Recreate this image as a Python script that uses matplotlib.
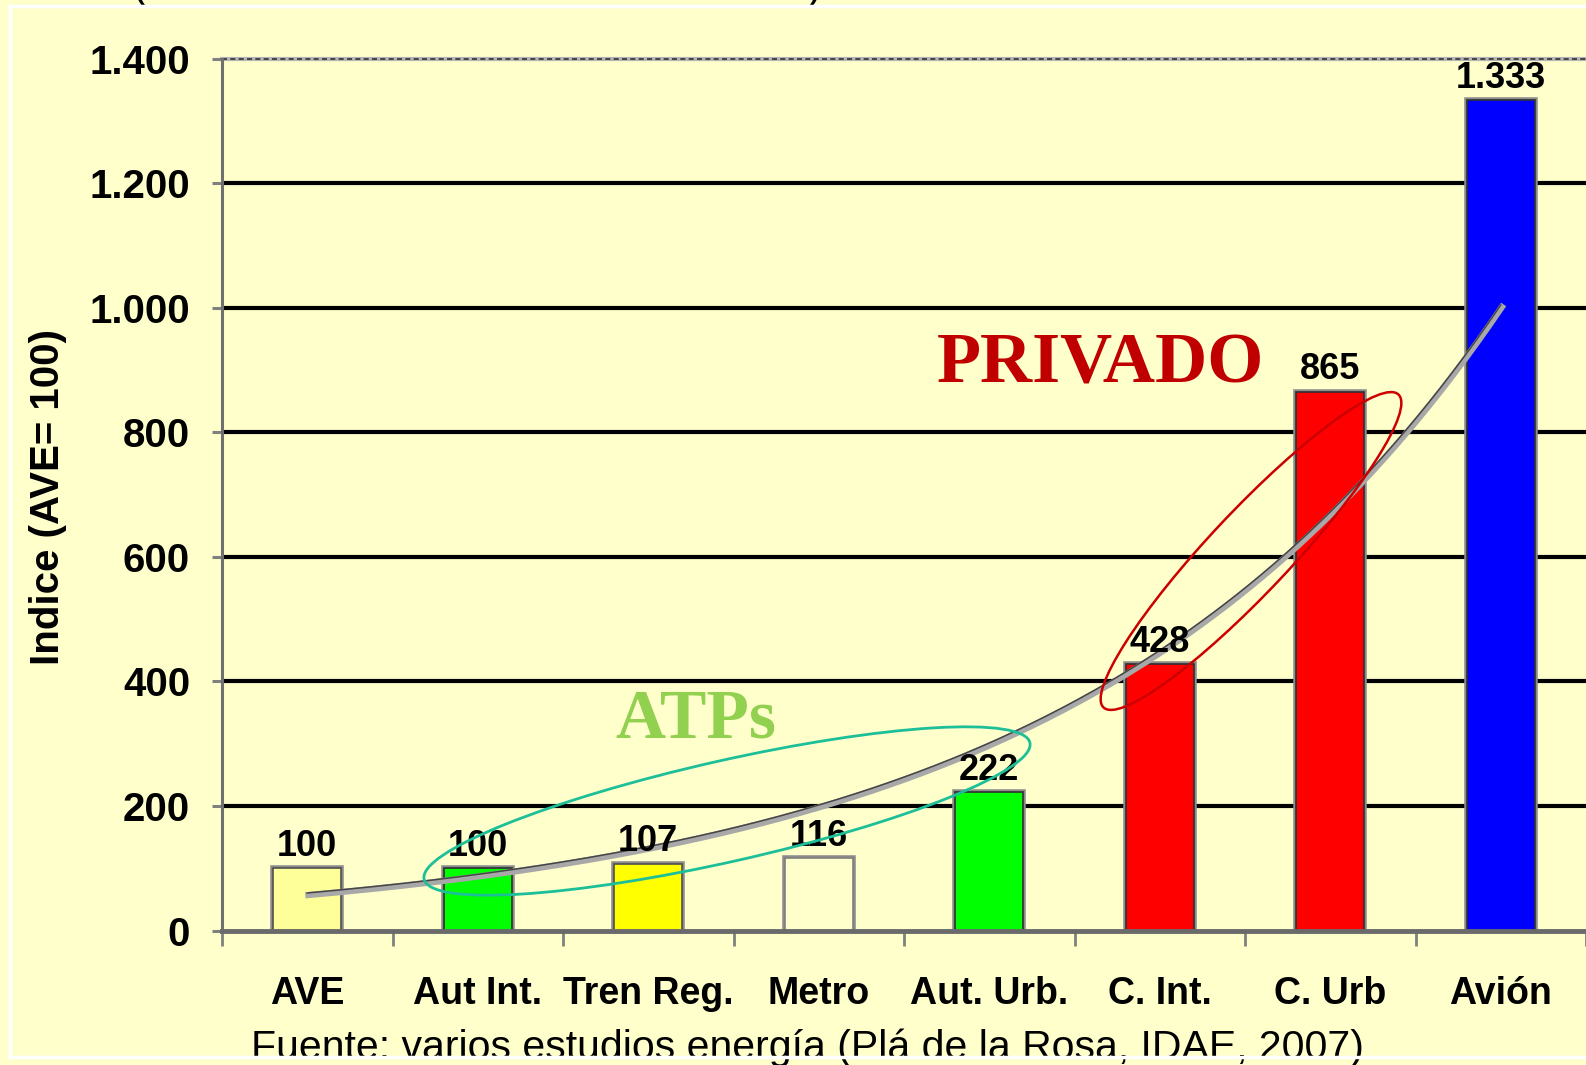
import numpy as np
import matplotlib
matplotlib.use('Agg')
import matplotlib.pyplot as plt
import matplotlib.patheffects as pe
from matplotlib.patches import Ellipse
from matplotlib.lines import Line2D
from matplotlib.transforms import Affine2D

W, H = 1586, 1065
BG = '#FFFFCC'

categories = ['AVE', 'Aut Int.', 'Tren Reg.', 'Metro', 'Aut. Urb.', 'C. Int.', 'C. Urb', 'Avión']
values = [100, 100, 107, 116, 222, 428, 865, 1333]
bar_colors = ['#FFFF99', '#00FF00', '#FFFF00', BG, '#00FF00', '#FF0000', '#FF0000', '#0000FF']
bar_edges = ['#505050', '#303030', '#505050', '#808080', '#303030', '#303030', '#303030', '#303030']
yticks = [0, 200, 400, 600, 800, 1000, 1200, 1400]

plt.rcParams['font.family'] = ['Liberation Sans', 'DejaVu Sans']
plt.rcParams['font.weight'] = 'bold'


def fmt(v):
    return f'{v:,}'.replace(',', '.')


# image pixel coords (origin top-left) -> display
px = Affine2D().scale(1, -1).translate(0, H)

fig = plt.figure(figsize=(W / 100, H / 100), dpi=100, facecolor=BG)
x0, y0, y1 = 222, 930.6, 58.7
cat_w = 171
ax = fig.add_axes([x0 / W, 1 - y0 / H, (W - x0) / W, (y0 - y1) / H])
ax.set_facecolor(BG)
x = np.arange(len(categories))
ax.set_xlim(-0.5, (W - x0) / cat_w - 0.5)
ax.set_ylim(0, 1400)

# horizontal grid
for v in yticks[1:-1]:
    ax.axhline(v, color='black', lw=3, zorder=1)
ax.axhline(1400, color='#b4b4b4', lw=3, zorder=1, clip_on=False)
ax.axhline(1400, color='#333333', lw=1.2, ls=(0, (3, 2)), zorder=1, clip_on=False)

bars = ax.bar(x, values, width=0.4, color=bar_colors, edgecolor=bar_edges, lw=1.2, zorder=2)
for b in bars:
    b.set_path_effects([pe.Stroke(linewidth=4, foreground='#8c8c8c'), pe.Normal()])

# exponential trend line (least squares on log values)
coef = np.polyfit(x, np.log(values), 1)
tx = np.linspace(0, len(x) - 1, 300)
ty = np.exp(coef[1] + coef[0] * tx)
ax.plot(tx, ty, color='#454545', lw=1.1, zorder=3,
        path_effects=[pe.Stroke(linewidth=4.5, foreground='#a8a8a8', offset=(0.8, -1.5)), pe.Normal()])

for xi, v in zip(x, values):
    ax.annotate(fmt(v), (xi, v), xytext=(0, 9), textcoords='offset points',
                ha='center', va='baseline', fontsize=26, fontweight='bold', zorder=5)

for s in ['top', 'right']:
    ax.spines[s].set_visible(False)
ax.spines['left'].set_color('#707070')
ax.spines['left'].set_linewidth(2.2)
ax.spines['bottom'].set_color('#6a6a6a')
ax.spines['bottom'].set_linewidth(3.5)
ax.spines['bottom'].set_zorder(4)

ax.set_yticks(yticks)
ax.set_yticklabels([fmt(v) for v in yticks])
ax.tick_params(axis='y', length=7, width=2.2, color='#808080', pad=16, labelsize=29)

ax.set_xticks(x)
ax.set_xticklabels(categories)
ax.set_xticks(np.arange(len(x) + 1) - 0.5, minor=True)
ax.tick_params(axis='x', which='major', length=0, pad=33, labelsize=27)
ax.tick_params(axis='x', which='minor', length=11, width=2, color='#808080')

fig.text(48 / W, 1 - 497 / H, 'Indice (AVE= 100)', rotation=90, ha='center', va='center',
         fontsize=29, fontweight='bold')

fig.text(1101 / W, 1 - 383 / H, 'PRIVADO', ha='center', va='baseline', fontsize=52,
         fontweight='bold', family=['Liberation Serif', 'DejaVu Serif'], color='#C00000')
fig.text(696 / W, 1 - 738 / H, 'ATPs', ha='center', va='baseline', fontsize=50,
         fontweight='bold', family=['Liberation Serif', 'DejaVu Serif'], color='#92D050')

fig.add_artist(Ellipse((727, 811), 621, 101, angle=-12.7, transform=px, fill=False,
                       ec='#1DBF98', lw=2, zorder=6))
fig.add_artist(Ellipse((1251, 551), 430, 81, angle=-46.7, transform=px, fill=False,
                       ec='#CC0000', lw=1.8, zorder=6))

fig.text(251 / W, 1 - 1059 / H, 'Fuente: varios estudios energía (Plá de la Rosa, IDAE, 2007)',
         ha='left', va='baseline', fontsize=29.5, fontweight='normal')
fig.text(132 / W, 1 + 2 / H, '(', ha='left', va='baseline', fontsize=30, fontweight='normal')
fig.text(808 / W, 1 + 2 / H, ')', ha='left', va='baseline', fontsize=30, fontweight='normal')

# white frame
for xs, ys in [([10, 10], [6, 1057]), ([10, W], [6, 6]), ([10, W], [1057, 1057])]:
    fig.add_artist(Line2D(xs, ys, transform=px, color='white', lw=2.5, zorder=10))

fig.savefig('out.png', dpi=100, facecolor=BG)
